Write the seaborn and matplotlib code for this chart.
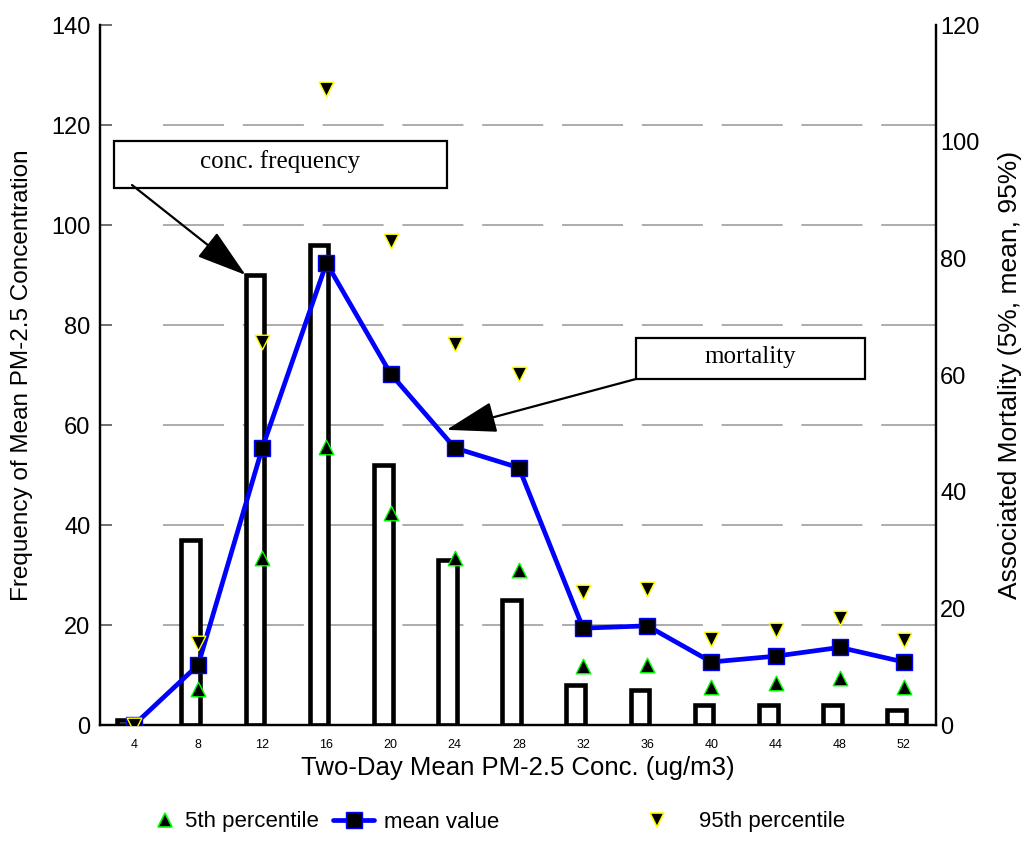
import numpy as np
import matplotlib
matplotlib.use("Agg")
import matplotlib.pyplot as plt
import seaborn as sns
from matplotlib.patches import Rectangle
from matplotlib.lines import Line2D

# Two-day mean PM-2.5 concentration bins (ug/m3)
conc_bins = [4, 8, 12, 16, 20, 24, 28, 32, 36, 40, 44, 48, 52]
# Number of two-day periods falling in each concentration bin (left axis)
conc_frequency = [1, 37, 90, 96, 52, 33, 25, 8, 7, 4, 4, 4, 3]
# Associated mortality (right axis)
mortality_p5 = [0, 6.1, 28.6, 47.6, 36.3, 28.6, 26.6, 10.1, 10.3, 6.5, 7.2, 8.0, 6.5]
mortality_mean = [0, 10.3, 47.5, 79.2, 60.2, 47.5, 44.1, 16.6, 17.0, 10.8, 11.8, 13.3, 10.8]
mortality_p95 = [0, 14.0, 65.7, 109.0, 82.9, 65.3, 60.2, 22.8, 23.3, 14.7, 16.3, 18.3, 14.6]

legend_labels = ["5th percentile", "mean value", "95th percentile"]

sns.set_theme(style="white")
plt.rcParams["font.family"] = ["Liberation Sans", "DejaVu Sans"]
for key in ("text.color", "axes.labelcolor", "xtick.color", "ytick.color"):
    plt.rcParams[key] = "black"

W, H = 1034, 857
fig = plt.figure(figsize=(W / 100, H / 100), dpi=100)
ax = fig.add_axes([100 / W, 132 / H, 836 / W, 700 / H])

pos = np.arange(len(conc_bins))
bar_shift = -0.115
bar_width = 0.29

# Frequency bars: hollow, thick black outline
sns.barplot(x=pos + bar_shift, y=conc_frequency, native_scale=True, width=bar_width,
            color="white", edgecolor="black", linewidth=3.3, saturation=1,
            errorbar=None, ax=ax, zorder=2)

ax.set_xlim(-0.53, 12.5)
ax.set_ylim(0, 140)
ax.set_yticks(range(0, 141, 20))
ax.set_xticks(pos)
ax.set_xticklabels([str(c) for c in conc_bins])

# dashed horizontal grid at the left-axis ticks
for v in ax.get_yticks():
    if 0 < v < 140:
        ax.axhline(v, xmin=63 / 836, xmax=1, color="#a6a6a6", lw=1.3,
                   ls=(0, (33.8, 10.4)), zorder=0)

ax2 = ax.twinx()
ax2.set_ylim(0, 120)
ax2.set_yticks(range(0, 121, 20))

sns.scatterplot(x=pos, y=mortality_p5, marker="^", s=110, color="black",
                edgecolor="#00ff00", linewidth=1.0, ax=ax2, zorder=3, legend=False)
sns.lineplot(x=pos, y=mortality_mean, color="blue", lw=3.4, marker="s", markersize=11,
             markerfacecolor="black", markeredgecolor="blue", markeredgewidth=1.0,
             ax=ax2, zorder=4, legend=False)
sns.scatterplot(x=pos, y=mortality_p95, marker="v", s=110, color="black",
                edgecolor="#ffff00", linewidth=1.0, ax=ax2, zorder=5, legend=False)
ax2.set_xlim(-0.53, 12.5)

for a in (ax, ax2):
    a.spines["top"].set_visible(False)
    for s in ("left", "right", "bottom"):
        a.spines[s].set_color("black")
        a.spines[s].set_linewidth(1.6)

ax.tick_params(axis="y", direction="in", length=8.5, width=1.2, color="#555555",
               labelsize=17, pad=7, left=True)
ax.tick_params(axis="x", length=0, labelsize=9, pad=10)
ax2.tick_params(axis="y", length=0, labelsize=17, pad=3)

ax.set_xlabel("Two-Day Mean PM-2.5 Conc. (ug/m3)", fontsize=18.5, va="center")
ax.xaxis.set_label_coords(0.5, -43 / 700)
ax.set_ylabel("Frequency of Mean PM-2.5 Concentration", fontsize=17.5, va="center")
ax.yaxis.set_label_coords(-78 / 836, 0.5)
ax2.set_ylabel("Associated Mortality (5%, mean, 95%)", fontsize=19, va="center",
               rotation=90)
ax2.yaxis.set_label_coords(910 / 836, 0.5)

# callout boxes
serif = ["Liberation Serif", "DejaVu Serif"]
box1 = Rectangle((14 / 836, 537 / 700), 333 / 836, 47 / 700, transform=ax.transAxes,
                 facecolor="white", edgecolor="black", lw=1.6, zorder=6)
ax2.add_patch(box1)
ax2.text(180 / 836, 563 / 700, "conc. frequency", transform=ax.transAxes, ha="center",
         va="center", fontsize=18, family=serif, zorder=7)
box2 = Rectangle((536 / 836, 346 / 700), 229 / 836, 41 / 700, transform=ax.transAxes,
                 facecolor="white", edgecolor="black", lw=1.6, zorder=6)
ax2.add_patch(box2)
ax2.text(650 / 836, 368 / 700, "mortality", transform=ax.transAxes, ha="center",
         va="center", fontsize=18, family=serif, zorder=7)

arrow = dict(arrowstyle="-|>,head_length=2.1,head_width=0.65", mutation_scale=15,
             color="black", lw=1.6, shrinkA=0, shrinkB=0)
ax2.annotate("", xy=(pos[2] + bar_shift - bar_width / 2, conc_frequency[2]),
             xycoords=ax.transData, xytext=(32 / 836, 540 / 700),
             textcoords=ax.transAxes, arrowprops=arrow, zorder=6)
ax2.annotate("", xy=(4.87, 50.6), xycoords="data", xytext=(536 / 836, 346 / 700),
             textcoords=ax.transAxes, arrowprops=arrow, zorder=6)

# legend entries, one per series, laid out in a row below the axis title
handles = [
    Line2D([], [], ls="none", marker="^", ms=10.5, mfc="black", mec="#00ff00", mew=1.2),
    Line2D([], [], color="blue", lw=3.4, marker="s", ms=11, mfc="black", mec="blue"),
    Line2D([], [], ls="none", marker="v", ms=10.5, mfc="black", mec="#ffff00", mew=1.2),
]
entry_left = [154, 333, 646]
entry_handlelen = [1.0, 1.85, 1.0]
entry_textpad = [0.4, 0.45, 1.4]
for h, lab, x0, hl, tp in zip(handles, legend_labels, entry_left, entry_handlelen,
                              entry_textpad):
    fig.legend([h], [lab], loc="center left", bbox_to_anchor=(x0 / W, 1 - 822 / H),
               frameon=False, fontsize=16, handlelength=hl, handletextpad=tp,
               borderpad=0, borderaxespad=0)

fig.savefig("out.png", dpi=100, facecolor="white")
